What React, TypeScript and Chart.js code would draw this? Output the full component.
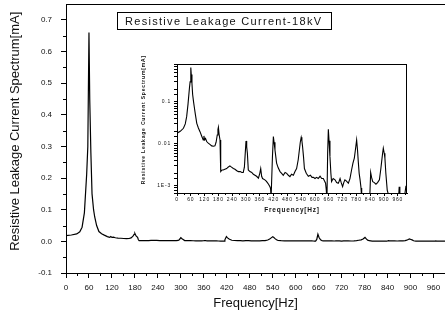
import React, { useEffect, useRef } from "react";
import { Chart, registerables } from "chart.js";

Chart.register(...registerables);

// ---- data (frequency in Hz, resistive leakage current spectrum in mA) ----
const freqHz = [0,14,28,36,42,48,54,57,60,62,65,68,72,75,80,86,93,100,108,114,117,120,124,129,136,143,151,158,165,170,175,178,180,183,187,189,191,196,201,208,216,222,230,237,245,252,260,267,275,282,288,293,296,300,303,306,310,317,325,332,339,346,354,360,364,368,372,382,388,393,398,404,407,409,413,415,419,422,426,433,440,448,455,462,470,477,484,491,498,506,513,520,527,532,536,540,543,546,550,554,562,571,580,587,593,600,607,614,622,629,636,642,646,649,652,655,658,661,665,669,672,679,687,694,701,705,709,714,720,725,730,737,745,752,759,765,771,776,781,785,788,792,796,800,803,815,830,838,842,846,851,858,865,872,880,886,890,894,897,901,904,908,914,920,926,935,942,950,958,964,966,969,975,985,990,995,1000];
const currentMA = [0.018,0.02,0.0236,0.03,0.0447,0.09,0.212,0.3,0.66,0.45,0.279,0.15,0.1,0.077,0.05,0.031,0.024,0.0196,0.015,0.0124,0.0155,0.0125,0.0135,0.0114,0.0105,0.0098,0.009,0.0088,0.009,0.011,0.0164,0.022,0.025,0.017,0.0124,0.005,0.0022,0.0024,0.0024,0.0025,0.0026,0.0028,0.003,0.0028,0.0026,0.0025,0.0023,0.0022,0.0022,0.0021,0.0021,0.0028,0.0052,0.0118,0.0085,0.006,0.0024,0.0022,0.0021,0.0019,0.0018,0.0017,0.00153,0.002,0.0026,0.0017,0.0015,0.0014,0.0013,0.0012,0.0011,0.00096,0.00085,0.0005,0.0005,0.005,0.015,0.011,0.0072,0.0035,0.0027,0.0022,0.002,0.0018,0.0021,0.002,0.0018,0.00167,0.0019,0.0018,0.0022,0.0026,0.0042,0.0072,0.011,0.0144,0.012,0.0086,0.005,0.0026,0.002,0.0017,0.0018,0.0016,0.0016,0.0015,0.0016,0.0015,0.0017,0.0015,0.0015,0.0013,0.00116,0.0008,0.0005,0.006,0.0224,0.012,0.005,0.002,0.00127,0.0015,0.0014,0.0012,0.00116,0.0013,0.0015,0.0012,0.00096,0.0012,0.0014,0.0013,0.00116,0.0015,0.0024,0.0035,0.0046,0.0075,0.0124,0.007,0.0039,0.002,0.0014,0.0009,0.0005,0.0005,0.0005,0.0005,0.0021,0.0016,0.00127,0.0012,0.0011,0.0012,0.0014,0.0025,0.0039,0.006,0.0079,0.006,0.0046,0.002,0.0008,0.0006,0.0005,0.0005,0.0005,0.0005,0.0005,0.0006,0.00096,0.0005,0.0005,0.0005,0.0006,0.00096,0.0009];

const chartTitle = "Resistive Leakage Current-18kV";
const xTitle = "Frequency[Hz]";
const yTitle = "Resistive Leakage Current Spectrum[mA]";
const insetYTickValues = [0.1, 0.01, 0.001];
const insetYTickText = ["0.1", "0.01", "1E-3"];

const FONT = "'Liberation Sans', Arial, Helvetica, sans-serif";

function framePlugin(id: string, o: { right: boolean; minorLen: number; xMinor: number[]; yMinor: number[]; spacing?: string }) {
  return {
    id,
    beforeDraw(chart: any) {
      if (o.spacing) chart.ctx.letterSpacing = o.spacing;
    },
    afterDraw(chart: any) {
      const { ctx, chartArea: a, scales } = chart;
      ctx.save();
      ctx.strokeStyle = "#000";
      ctx.lineWidth = 1;
      ctx.beginPath();
      ctx.moveTo(a.left, a.top + 0.5);
      ctx.lineTo(a.right, a.top + 0.5);
      if (o.right) {
        ctx.moveTo(a.right - 0.5, a.top);
        ctx.lineTo(a.right - 0.5, a.bottom);
      }
      for (const v of o.xMinor) {
        const px = Math.round(scales.x.getPixelForValue(v)) + 0.5;
        ctx.moveTo(px, a.bottom);
        ctx.lineTo(px, a.bottom + o.minorLen);
      }
      for (const v of o.yMinor) {
        const py = Math.round(scales.y.getPixelForValue(v)) + 0.5;
        ctx.moveTo(a.left - o.minorLen, py);
        ctx.lineTo(a.left, py);
      }
      ctx.stroke();
      ctx.restore();
    },
  };
}

const points = () => freqHz.map((f, i) => ({ x: f, y: currentMA[i] }));

export default function App() {
  const mainRef = useRef<HTMLCanvasElement>(null);
  const insetRef = useRef<HTMLCanvasElement>(null);

  useEffect(() => {
    const xMinorMain: number[] = [];
    for (let f = 30; f < 990; f += 60) xMinorMain.push(f);
    const yMinorMain: number[] = [];
    for (let k = -1; k < 15; k += 2) yMinorMain.push(k * 0.05);

    const main = new Chart(mainRef.current as HTMLCanvasElement, {
      type: "line",
      data: {
        datasets: [
          { data: points(), borderColor: "#000", borderWidth: 1.2, pointRadius: 0, fill: false, tension: 0 } as any,
        ],
      },
      options: {
        animation: false,
        responsive: false,
        events: [],
        layout: { padding: { top: 4, left: 0, right: 0, bottom: 0 } },
        plugins: { legend: { display: false }, tooltip: { enabled: false } },
        scales: {
          x: {
            type: "linear",
            min: 0,
            max: 990,
            ticks: {
              stepSize: 60,
              includeBounds: false,
              autoSkip: false,
              maxRotation: 0,
              padding: 5,
              color: "#111",
              font: { family: FONT, size: 8 },
              callback: (v: any) => String(v),
            },
            grid: { drawOnChartArea: false, tickLength: 5, tickColor: "#000", color: "#000" },
            border: { color: "#000", width: 1 },
            title: { display: true, text: xTitle, color: "#111", font: { family: FONT, size: 13 }, padding: { top: 0, bottom: 9 } },
            afterFit: (s: any) => {
              s.height = 47;
              s.paddingLeft = 0;
              s.paddingRight = 0;
            },
          },
          y: {
            type: "linear",
            min: -0.1,
            max: 0.75,
            ticks: {
              stepSize: 0.1,
              includeBounds: false,
              autoSkip: false,
              padding: 9,
              color: "#111",
              font: { family: FONT, size: 8 },
              callback: (v: any) => Number(v).toFixed(1),
            },
            grid: { drawOnChartArea: false, tickLength: 5, tickColor: "#000", color: "#000" },
            border: { color: "#000", width: 1 },
            title: { display: true, text: "    " + yTitle, color: "#111", font: { family: FONT, size: 13 }, padding: { top: 8, bottom: 0 } },
            afterFit: (s: any) => {
              s.width = 66;
              s.paddingTop = 0;
              s.paddingBottom = 0;
            },
          },
        },
      } as any,
      plugins: [framePlugin("mainFrame", { right: false, minorLen: 3, xMinor: xMinorMain, yMinor: yMinorMain })],
    });

    const xMinorInset: number[] = [];
    for (let f = 30; f < 1000; f += 60) xMinorInset.push(f);

    const inset = new Chart(insetRef.current as HTMLCanvasElement, {
      type: "line",
      data: {
        datasets: [
          { data: points(), borderColor: "#000", borderWidth: 1.1, pointRadius: 0, fill: false, tension: 0 } as any,
        ],
      },
      options: {
        animation: false,
        responsive: false,
        events: [],
        layout: { padding: { top: 16, left: 0, right: 8, bottom: 0 } },
        plugins: { legend: { display: false }, tooltip: { enabled: false } },
        scales: {
          x: {
            type: "linear",
            min: 0,
            max: 1000,
            ticks: {
              stepSize: 60,
              includeBounds: false,
              autoSkip: false,
              maxRotation: 0,
              padding: 1,
              color: "#111",
              font: { family: FONT, size: 5 },
              callback: (v: any) => String(v),
            },
            grid: { drawOnChartArea: false, tickLength: 3, tickColor: "#000", color: "#000" },
            border: { color: "#000", width: 1 },
            title: { display: true, text: xTitle, color: "#111", font: { family: FONT, size: 6.5, weight: "bold" }, padding: { top: 0, bottom: 4 } },
            afterFit: (s: any) => {
              s.height = 25;
              s.paddingLeft = 0;
              s.paddingRight = 0;
            },
          },
          y: {
            type: "logarithmic",
            min: 0.00068,
            max: 0.8,
            ticks: {
              autoSkip: false,
              padding: 3,
              color: "#111",
              font: { family: FONT, size: 5 },
              callback: (v: any) => {
                const i = insetYTickValues.findIndex((t) => Math.abs(Number(v) - t) / t < 1e-6);
                return i >= 0 ? insetYTickText[i] : "";
              },
            },
            grid: { drawOnChartArea: false, tickLength: 3, tickColor: "#000", color: "#000" },
            border: { color: "#000", width: 1 },
            title: { display: true, text: "        " + yTitle, color: "#111", font: { family: FONT, size: 5, weight: "bold" }, padding: { top: 3, bottom: 0 } },
            afterFit: (s: any) => {
              s.width = 39;
              s.paddingTop = 0;
              s.paddingBottom = 0;
            },
          },
        },
      } as any,
      plugins: [framePlugin("insetFrame", { right: true, minorLen: 2, xMinor: xMinorInset, yMinor: [], spacing: "0.8px" })],
    });

    return () => {
      main.destroy();
      inset.destroy();
    };
  }, []);

  return (
    <div style={{ position: "absolute", left: 0, top: 0, width: 445, height: 320, background: "#fff", overflow: "hidden" }}>
      <canvas ref={mainRef} width={445} height={320} style={{ position: "absolute", left: 0, top: 0 }} />
      <div
        style={{
          position: "absolute",
          left: 117,
          top: 12,
          width: 215,
          height: 18,
          boxSizing: "border-box",
          border: "1px solid #000",
          fontFamily: FONT,
          fontSize: 11,
          letterSpacing: "1.3px",
          lineHeight: "16px",
          paddingLeft: 7,
          whiteSpace: "nowrap",
          color: "#111",
        }}
      >
        {chartTitle}
      </div>
      <canvas ref={insetRef} width={277} height={170} style={{ position: "absolute", left: 138, top: 48 }} />
    </div>
  );
}
